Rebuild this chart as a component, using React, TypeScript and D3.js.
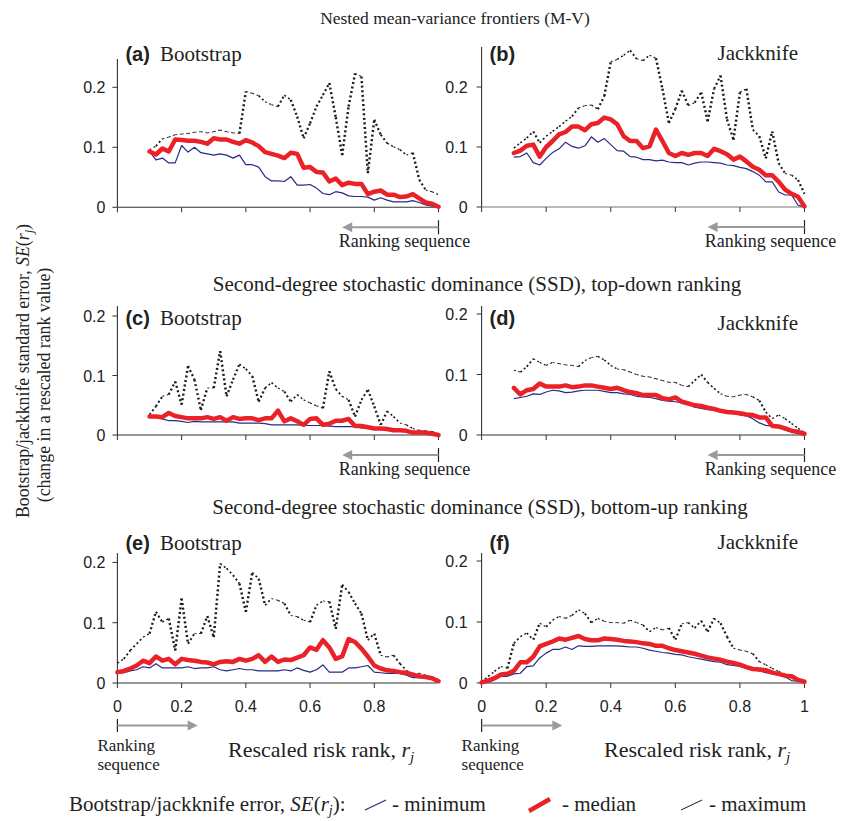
import React from 'react';
import * as d3 from 'd3';

// ---------- data ----------
const RANK_TOP = [0.10,0.12,0.14,0.16,0.18,0.20,0.22,0.24,0.26,0.28,0.30,0.32,0.34,0.36,0.38,0.40,0.42,0.44,0.46,0.48,0.50,0.52,0.54,0.56,0.58,0.60,0.62,0.64,0.66,0.68,0.70,0.72,0.74,0.76,0.78,0.80,0.82,0.84,0.86,0.88,0.90,0.92,0.94,0.96,0.98,1.00];
const RANK_BOTTOM = [0.00,0.02,0.04,0.06,0.08,0.10,0.12,0.14,0.16,0.18,0.20,0.22,0.24,0.26,0.28,0.30,0.32,0.34,0.36,0.38,0.40,0.42,0.44,0.46,0.48,0.50,0.52,0.54,0.56,0.58,0.60,0.62,0.64,0.66,0.68,0.70,0.72,0.74,0.76,0.78,0.80,0.82,0.84,0.86,0.88,0.90,0.92,0.94,0.96,0.98,1.00];

const A_MIN = [.093,.079,.082,.074,.074,.103,.092,.100,.091,.089,.087,.089,.087,.082,.087,.071,.071,.067,.051,.044,.044,.043,.051,.037,.037,.038,.032,.023,.021,.026,.024,.019,.018,.018,.017,.012,.016,.012,.009,.009,.009,.011,.008,.004,.002,.001];
const A_MED = [.093,.088,.098,.093,.113,.112,.111,.111,.109,.106,.115,.113,.113,.109,.106,.112,.108,.102,.092,.089,.086,.082,.091,.089,.066,.067,.059,.058,.043,.048,.037,.041,.039,.039,.022,.026,.028,.021,.021,.017,.018,.022,.015,.008,.006,.001];
const A_MAX = [.096,.102,.114,.117,.121,.122,.123,.125,.126,.124,.126,.129,.126,.124,.123,.193,.190,.186,.176,.171,.168,.187,.179,.151,.115,.140,.168,.187,.207,.150,.087,.168,.223,.218,.057,.146,.121,.107,.101,.096,.087,.091,.046,.029,.026,.021];

const B_MIN = [.083,.084,.090,.074,.070,.081,.091,.097,.108,.101,.098,.102,.117,.108,.114,.104,.094,.093,.084,.083,.079,.079,.077,.078,.075,.074,.074,.070,.073,.075,.075,.074,.073,.070,.069,.066,.064,.059,.053,.042,.042,.025,.020,.020,.003,.000];
const B_MED = [.090,.094,.102,.104,.084,.100,.110,.121,.125,.134,.134,.128,.138,.140,.149,.146,.138,.118,.110,.110,.098,.101,.129,.110,.090,.085,.090,.087,.090,.090,.085,.097,.093,.088,.079,.084,.076,.067,.062,.053,.053,.042,.029,.022,.017,.001];
const B_MAX = [.098,.107,.115,.126,.107,.118,.126,.134,.143,.151,.165,.169,.170,.163,.185,.242,.246,.253,.261,.247,.244,.253,.248,.197,.140,.163,.194,.169,.174,.191,.143,.197,.219,.146,.112,.191,.197,.129,.118,.081,.126,.073,.056,.053,.045,.022];

const C_MIN = [.031,.030,.027,.024,.024,.023,.021,.023,.022,.022,.022,.022,.022,.022,.020,.020,.020,.020,.019,.017,.017,.017,.017,.017,.016,.016,.016,.016,.015,.014,.014,.014,.014,.012,.011,.010,.010,.010,.008,.007,.006,.004,.004,.003,.002,.000];
const C_MED = [.031,.031,.030,.037,.032,.030,.028,.028,.028,.030,.027,.030,.024,.030,.027,.028,.028,.025,.028,.028,.041,.023,.028,.023,.017,.027,.028,.017,.019,.024,.024,.027,.015,.015,.013,.011,.011,.010,.008,.008,.007,.004,.004,.004,.002,.000];
const C_MAX = [.034,.048,.065,.068,.090,.051,.116,.093,.042,.079,.079,.141,.065,.093,.119,.111,.099,.056,.079,.088,.079,.073,.056,.068,.059,.054,.049,.045,.107,.077,.065,.059,.031,.059,.076,.048,.017,.040,.031,.020,.017,.011,.008,.007,.006,.002];

const D_MIN = [.060,.062,.064,.068,.067,.071,.074,.073,.070,.071,.073,.074,.074,.074,.072,.070,.070,.068,.067,.064,.063,.062,.060,.057,.056,.055,.053,.051,.046,.044,.042,.041,.039,.037,.036,.033,.032,.027,.020,.016,.015,.013,.008,.005,.003,.000];
const D_MED = [.078,.067,.074,.076,.085,.080,.080,.080,.082,.079,.080,.082,.082,.080,.078,.076,.078,.074,.071,.069,.066,.066,.066,.061,.059,.062,.055,.052,.049,.048,.045,.043,.040,.038,.037,.036,.034,.033,.029,.029,.015,.014,.011,.007,.005,.002];
const D_MAX = [.107,.104,.113,.126,.120,.115,.120,.118,.116,.115,.113,.123,.128,.130,.124,.115,.109,.108,.104,.100,.097,.096,.093,.090,.087,.087,.082,.080,.090,.100,.087,.077,.068,.064,.063,.066,.067,.063,.057,.038,.027,.033,.027,.019,.011,.004];

const E_MIN = [.016,.017,.020,.022,.027,.025,.032,.025,.025,.025,.025,.027,.024,.025,.025,.027,.022,.020,.022,.024,.022,.022,.020,.020,.020,.020,.022,.020,.025,.021,.018,.022,.030,.018,.018,.018,.025,.025,.027,.029,.018,.017,.016,.016,.016,.013,.009,.009,.009,.006,.002];
const E_MED = [.018,.020,.024,.029,.037,.033,.044,.037,.040,.031,.040,.038,.037,.035,.034,.031,.035,.036,.035,.040,.037,.040,.046,.035,.044,.035,.039,.038,.042,.046,.059,.055,.071,.059,.040,.044,.073,.068,.057,.044,.029,.024,.021,.020,.018,.017,.014,.011,.010,.008,.003];
const E_MAX = [.033,.040,.054,.065,.076,.082,.118,.101,.107,.054,.140,.065,.082,.082,.111,.076,.198,.190,.179,.165,.118,.183,.173,.129,.140,.137,.132,.112,.110,.104,.101,.129,.136,.135,.090,.163,.151,.132,.115,.071,.082,.046,.043,.046,.032,.021,.016,.016,.013,.010,.006];

const F_MIN = [.000,.001,.005,.011,.011,.015,.016,.027,.028,.041,.049,.055,.055,.059,.055,.061,.060,.060,.061,.061,.061,.061,.060,.059,.059,.057,.054,.052,.050,.049,.047,.046,.043,.041,.039,.037,.035,.034,.030,.029,.027,.024,.022,.020,.017,.015,.013,.010,.004,.003,.001];
const F_MED = [.001,.004,.008,.014,.015,.020,.034,.034,.043,.060,.064,.068,.073,.071,.074,.077,.072,.070,.070,.073,.072,.071,.069,.068,.067,.065,.064,.061,.061,.057,.054,.052,.050,.048,.045,.042,.040,.038,.035,.033,.030,.026,.023,.022,.021,.017,.015,.012,.011,.005,.002];
const F_MAX = [.001,.011,.019,.027,.024,.065,.076,.082,.071,.098,.092,.103,.109,.106,.111,.120,.114,.099,.106,.101,.099,.099,.098,.103,.099,.095,.084,.091,.087,.090,.071,.097,.099,.090,.102,.084,.106,.098,.076,.057,.054,.052,.048,.035,.030,.024,.019,.014,.011,.005,.003];

const Y_TICKS = [0, 0.1, 0.2];
const Y_TICK_LABELS = ['0', '0.1', '0.2'];
const X_TICKS = [0, 0.2, 0.4, 0.6, 0.8, 1];
const X_TICK_LABELS = ['0', '0.2', '0.4', '0.6', '0.8', '1'];

const TITLES = [
  'Nested mean-variance frontiers (M-V)',
  'Second-degree stochastic dominance (SSD), top-down ranking',
  'Second-degree stochastic dominance (SSD), bottom-up ranking',
];

// ---------- layout ----------
const SERIF = "'Liberation Serif', 'Times New Roman', serif";
const SANS = "'Liberation Sans', Arial, sans-serif";
const C_MIN_COL = '#262a85';
const C_MED_COL = '#ea2228';
const C_MAX_COL = '#1a1a1a';
const AXIS_COL = '#333';
const ARROW_COL = '#9a9a9a';

const LEFT = { x0: 117.4, x1: 438.5 };
const RIGHT = { x0: 481.6, x1: 804.5 };

const PANELS = [
  { id: '(a)', method: 'Bootstrap', col: LEFT, y0: 207.3, unit: 60, top: 59, rank: RANK_TOP, min: A_MIN, med: A_MED, max: A_MAX, ly: 61, dir: 'left', xl: false, xt: X_TICKS },
  { id: '(b)', method: 'Jackknife', col: RIGHT, y0: 207.0, unit: 60, top: 47, rank: RANK_TOP, min: B_MIN, med: B_MED, max: B_MAX, ly: 61, dir: 'left', xl: false, xt: X_TICKS },
  { id: '(c)', method: 'Bootstrap', col: LEFT, y0: 435, unit: 59.5, top: 306, rank: RANK_TOP, min: C_MIN, med: C_MED, max: C_MAX, ly: 325, dir: 'left', xl: false, xt: X_TICKS },
  { id: '(d)', method: 'Jackknife', col: RIGHT, y0: 435, unit: 60.5, top: 306, rank: RANK_TOP, min: D_MIN, med: D_MED, max: D_MAX, ly: 325, dir: 'left', xl: false, xt: X_TICKS },
  { id: '(e)', method: 'Bootstrap', col: LEFT, y0: 683, unit: 60.3, top: 553, rank: RANK_BOTTOM, min: E_MIN, med: E_MED, max: E_MAX, ly: 550, dir: 'right', xl: true, xt: X_TICKS.slice(0, 5) },
  { id: '(f)', method: 'Jackknife', col: RIGHT, y0: 683, unit: 61, top: 553, rank: RANK_BOTTOM, min: F_MIN, med: F_MED, max: F_MAX, ly: 550, dir: 'right', xl: true, xt: X_TICKS },
];

function Panel({ p }: { p: any }) {
  const x = d3.scaleLinear().domain([0, 1]).range([p.col.x0, p.col.x1]);
  const y = d3.scaleLinear().domain([0, 0.1]).range([p.y0, p.y0 - p.unit]);
  const pts = (vals: number[]) => vals.map((v, i) => [p.rank[i], v] as [number, number]);
  const line = d3.line<[number, number]>().x((d) => x(d[0])).y((d) => y(d[1]));
  const maxPts = pts(p.max);
  const isLeft = p.col === LEFT;
  const xEnd = p.id === '(e)' ? p.col.x1 - 1 : p.col.x1;

  // max series drawn as dotted segments, heavier where steep
  const segs = maxPts.slice(1).map((d, i) => {
    const a = maxPts[i];
    const x1 = x(a[0]), y1 = y(a[1]), x2 = x(d[0]), y2 = y(d[1]);
    const len = Math.hypot(x2 - x1, y2 - y1);
    const steep = Math.abs(y2 - y1) / (len || 1);
    return { x1, y1, x2, y2, w: 0.9 + 1.6 * steep * steep, k: i };
  });

  return (
    <g>
      {/* axes */}
      <line x1={p.col.x0} x2={p.col.x0} y1={p.top} y2={p.y0} stroke={AXIS_COL} strokeWidth={1.1} />
      <line x1={p.col.x0} x2={xEnd} y1={p.y0} y2={p.y0} stroke={p.id === '(b)' ? '#777' : AXIS_COL} strokeWidth={1.1} />
      {Y_TICKS.map((t, i) => (
        <g key={'y' + i}>
          <line x1={p.col.x0 - 5} x2={p.col.x0} y1={y(t)} y2={y(t)} stroke={AXIS_COL} strokeWidth={1} />
          <text x={p.col.x0 - (isLeft ? 12 : 14)} y={y(t) + 6} textAnchor="end" fontFamily={SANS} fontSize={16} fill="#222">{Y_TICK_LABELS[i]}</text>
        </g>
      ))}
      {p.xt.map((t: number, i: number) => (
        <line key={'x' + i} x1={x(t)} x2={x(t)} y1={p.y0} y2={p.y0 + 5} stroke={AXIS_COL} strokeWidth={1} />
      ))}
      {p.xl && p.xt.map((t: number, i: number) => (
        <text key={'xl' + i} x={x(t)} y={712} textAnchor="middle" fontFamily={SANS} fontSize={16} fill="#222">{X_TICK_LABELS[i]}</text>
      ))}

      {/* series */}
      {segs.map((s) => (
        <line key={'m' + s.k} x1={s.x1} y1={s.y1} x2={s.x2} y2={s.y2} stroke={C_MAX_COL} strokeWidth={s.w} strokeDasharray="2 2.6" />
      ))}
      <path d={line(pts(p.min)) || ''} fill="none" stroke={C_MIN_COL} strokeWidth={1.2} strokeLinejoin="round" />
      <path d={line(pts(p.med)) || ''} fill="none" stroke={C_MED_COL} strokeWidth={4.5} strokeLinejoin="round" strokeLinecap="round" />

      {/* labels */}
      <text x={p.col.x0 + 8} y={p.ly} fontFamily={SANS} fontWeight="bold" fontSize={20} fill="#222">{p.id}</text>
      {p.method === 'Bootstrap' ? (
        <text x={160} y={p.ly} fontFamily={SERIF} fontSize={21} fill="#222">{p.method}</text>
      ) : (
        <text x={798} y={p.id === '(d)' ? 330 : p.ly - 1} textAnchor="end" fontFamily={SERIF} fontSize={21} fill="#222">{p.method}</text>
      )}

      {/* ranking sequence arrow */}
      {p.dir === 'left' ? (
        <g>
          <line x1={x(1)} x2={x(1)} y1={p.y0 + 13} y2={p.y0 + 27} stroke="#222" strokeWidth={1.2} />
          <line x1={x(1)} x2={x(0.73)} y1={p.y0 + 20} y2={p.y0 + 20} stroke={ARROW_COL} strokeWidth={2} />
          <path d={`M${x(0.7)},${p.y0 + 20} l10,-5 l0,10 z`} fill={ARROW_COL} />
          <text x={x(1) - 34} y={p.y0 + 39.5} textAnchor="middle" fontFamily={SERIF} fontSize={18} fill="#222">Ranking sequence</text>
        </g>
      ) : (
        <g>
          <line x1={x(0)} x2={x(0)} y1={719} y2={732} stroke="#222" strokeWidth={1.2} />
          <line x1={x(0)} x2={x(0.22)} y1={725.5} y2={725.5} stroke={ARROW_COL} strokeWidth={2} />
          <path d={`M${x(0.25)},725.5 l-10,-5 l0,10 z`} fill={ARROW_COL} />
          <text x={x(0) - 20} y={750.5} fontFamily={SERIF} fontSize={17} fill="#222">Ranking</text>
          <text x={x(0) - 20} y={769.5} fontFamily={SERIF} fontSize={17} fill="#222">sequence</text>
          <text x={isLeft ? 228 : 604} y={757} fontFamily={SERIF} fontSize={22} fill="#222">
            Rescaled risk rank, <tspan fontStyle="italic">r</tspan><tspan fontStyle="italic" fontSize={15} dy={5}>j</tspan>
          </text>
        </g>
      )}
    </g>
  );
}

export default function App() {
  return (
    <svg width={847} height={821} viewBox="0 0 847 821" style={{ position: 'absolute', left: 0, top: 0, background: '#fff' }}>
      <rect x={0} y={0} width={847} height={821} fill="#fff" />
      <text x={455} y={24} textAnchor="middle" fontFamily={SERIF} fontSize={17.5} fill="#222">{TITLES[0]}</text>
      <text x={477} y={291} textAnchor="middle" fontFamily={SERIF} fontSize={21} fill="#222">{TITLES[1]}</text>
      <text x={480} y={514} textAnchor="middle" fontFamily={SERIF} fontSize={21} fill="#222">{TITLES[2]}</text>

      <text transform="translate(29,371) rotate(-90)" textAnchor="middle" fontFamily={SERIF} fontSize={17.8} fill="#222">
        Bootstrap/jackknife standard error, <tspan fontStyle="italic">SE</tspan>(<tspan fontStyle="italic">r</tspan><tspan fontStyle="italic" fontSize={12.5} dy={4}>j</tspan><tspan dy={-4}>)</tspan>
      </text>
      <text transform="translate(50,385) rotate(-90)" textAnchor="middle" fontFamily={SERIF} fontSize={17.8} fill="#222">
        (change in a rescaled rank value)
      </text>

      {PANELS.map((p) => <Panel key={p.id} p={p} />)}

      {/* legend */}
      <g fontFamily={SERIF} fontSize={21} fill="#222">
        <text x={69} y={811}>
          Bootstrap/jackknife error, <tspan fontStyle="italic">SE</tspan>(<tspan fontStyle="italic">r</tspan><tspan fontStyle="italic" fontSize={14} dy={4}>j</tspan><tspan dy={-4}>):</tspan>
        </text>
        <line x1={365} y1={810} x2={386} y2={800} stroke={C_MIN_COL} strokeWidth={1.3} />
        <text x={392} y={811}>- minimum</text>
        <line x1={529} y1={811} x2={550} y2={799} stroke={C_MED_COL} strokeWidth={4.5} />
        <text x={562} y={811}>- median</text>
        <line x1={681} y1={810} x2={702} y2={800} stroke={C_MAX_COL} strokeWidth={1} />
        <text x={709} y={811}>- maximum</text>
      </g>
    </svg>
  );
}
